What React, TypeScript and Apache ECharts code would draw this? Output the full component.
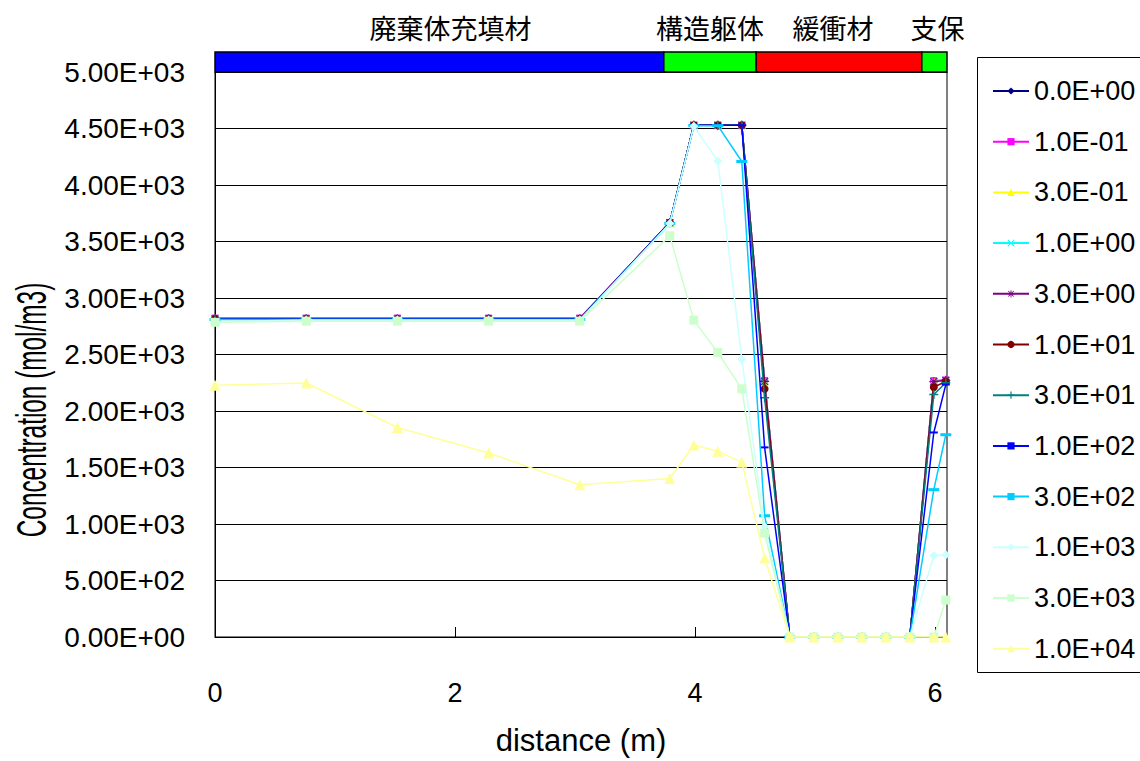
import React, { useEffect, useRef } from "react";
import * as echarts from "echarts";

// ---- data ----
const distance = [0, 0.76, 1.52, 2.28, 3.04, 3.79, 3.99, 4.19, 4.39, 4.58, 4.79, 4.99, 5.19, 5.39, 5.59, 5.79, 5.99, 6.09];

const seriesNames = [
  "0.0E+00", "1.0E-01", "3.0E-01", "1.0E+00", "3.0E+00", "1.0E+01",
  "3.0E+01", "1.0E+02", "3.0E+02", "1.0E+03", "3.0E+03", "1.0E+04",
];

const conc_0 = [2815, 2815, 2815, 2815, 2815, 3667, 4529, 4529, 4529, 2263, 0, 0, 0, 0, 0, 0, 2263, 2272];
const conc_0_1 = [2822, 2822, 2822, 2822, 2822, 3667, 4529, 4529, 4529, 2268, 0, 0, 0, 0, 0, 0, 2268, 2274];
const conc_0_3 = [2815, 2815, 2815, 2815, 2815, 3667, 4529, 4529, 4529, 2263, 0, 0, 0, 0, 0, 0, 2263, 2270];
const conc_1 = [2812, 2812, 2812, 2812, 2812, 3665, 4529, 4529, 4529, 2260, 0, 0, 0, 0, 0, 0, 2258, 2270];
const conc_3 = [2815, 2815, 2815, 2815, 2815, 3667, 4529, 4529, 4529, 2262, 0, 0, 0, 0, 0, 0, 2260, 2272];
const conc_10 = [2815, 2815, 2815, 2815, 2815, 3667, 4529, 4529, 4529, 2196, 0, 0, 0, 0, 0, 0, 2210, 2262];
const conc_30 = [2815, 2815, 2815, 2815, 2815, 3667, 4529, 4529, 4529, 2117, 0, 0, 0, 0, 0, 0, 2146, 2250];
const conc_100 = [2815, 2815, 2815, 2815, 2815, 3667, 4529, 4529, 4529, 1678, 0, 0, 0, 0, 0, 0, 1810, 2234];
const conc_300 = [2810, 2810, 2810, 2810, 2810, 3660, 4525, 4525, 4208, 1073, 0, 0, 0, 0, 0, 0, 1304, 1790];
const conc_1000 = [2790, 2805, 2805, 2805, 2805, 3660, 4520, 4213, 2459, 976, 0, 0, 0, 0, 0, 0, 722, 728];
const conc_3000 = [2785, 2795, 2795, 2795, 2795, 3550, 2804, 2518, 2196, 918, 0, 0, 0, 0, 0, 0, 0, 327];
const conc_10000 = [2228, 2248, 1854, 1629, 1348, 1403, 1699, 1643, 1547, 699, 0, 0, 0, 0, 0, 0, 0, 0];

const seriesValues = [
  conc_0, conc_0_1, conc_0_3, conc_1, conc_3, conc_10,
  conc_30, conc_100, conc_300, conc_1000, conc_3000, conc_10000,
];

const zoneStart = [0, 3.74, 4.51, 5.89];
const zoneEnd = [3.74, 4.51, 5.89, 6.1];
const zoneNames = ["廃棄体充填材", "構造躯体", "緩衝材", "支保"];

// ---- styles ----
const zoneColors = ["#0000FF", "#00FF00", "#FF0000", "#00FF00"];
const zoneLabelShift = [11, 0, -6, 3];
const colors = [
  "#000080", "#FF00FF", "#FFFF00", "#00FFFF", "#800080", "#800000",
  "#008080", "#0000FF", "#00CCFF", "#CCFFFF", "#CCFFCC", "#FFFF99",
];
const X_SYM = "path://M0,1L1,0L5,4L9,0L10,1L6,5L10,9L9,10L5,6L1,10L0,9L4,5Z";
const PLUS_SYM = "path://M4.2,0H5.8V4.2H10V5.8H5.8V10H4.2V5.8H0V4.2H4.2Z";
const STAR_SYM =
  "path://M4.4,0H5.6V4.4H10V5.6H5.6V10H4.4V5.6H0V4.4H4.4Z M0.8,1.6L1.6,0.8L5,4.2L8.4,0.8L9.2,1.6L5.8,5L9.2,8.4L8.4,9.2L5,5.8L1.6,9.2L0.8,8.4L4.2,5Z";
const symbols = [
  "diamond", "rect", "triangle", X_SYM, STAR_SYM, "circle",
  PLUS_SYM, "rect", "rect", "diamond", "rect", "triangle",
];
const symbolSizes: any[] = [8, 7, 9, 8, 9, 8, 9, [8, 2], [11, 3], 9, 9, 11];

const NUM_FONT = "'Liberation Sans', Arial, sans-serif";
const CJK_FONT = "'Noto Sans CJK JP', 'Noto Sans CJK SC', sans-serif";

function sciLabel(v: number): string {
  if (v === 0) return "0.00E+00";
  const e = Math.floor(Math.log10(v) + 1e-9);
  const m = v / Math.pow(10, e);
  const sign = e < 0 ? "-" : "+";
  const ae = Math.abs(e);
  return m.toFixed(2) + "E" + sign + (ae < 10 ? "0" + ae : String(ae));
}

function buildOption(): any {
  const lineSeries = seriesNames.map((name, i) => ({
    name,
    type: "line",
    data: distance.map((x, j) => [x, seriesValues[i][j]]),
    symbol: symbols[i],
    symbolSize: symbolSizes[i],
    showAllSymbol: true,
    lineStyle: { color: colors[i], width: 1.5 },
    itemStyle: { color: colors[i] },
    z: 2 + i * 0.01,
  }));

  const zoneSeries = {
    type: "custom",
    name: "zones",
    coordinateSystem: "cartesian2d",
    encode: { x: [0, 1] },
    data: zoneStart.map((s, i) => [s, zoneEnd[i]]),
    clip: false,
    silent: true,
    renderItem: (params: any, api: any) => {
      const i = params.dataIndex;
      const p0 = api.coord([api.value(0), 5000]);
      const p1 = api.coord([api.value(1), 5000]);
      return {
        type: "group",
        children: [
          {
            type: "rect",
            shape: { x: p0[0], y: p0[1] - 20, width: p1[0] - p0[0], height: 20 },
            style: { fill: zoneColors[i], stroke: "#000", lineWidth: 1.5 },
          },
          {
            type: "text",
            style: {
              text: zoneNames[i],
              x: (p0[0] + p1[0]) / 2 + zoneLabelShift[i],
              y: p0[1] - 45,
              align: "center",
              verticalAlign: "middle",
              fontSize: 27,
              fontFamily: CJK_FONT,
              fill: "#000",
            },
          },
        ],
      };
    },
  };

  return {
    animation: false,
    backgroundColor: "#ffffff",
    grid: {
      left: 215,
      top: 72,
      width: 732,
      height: 571,
      show: true,
      borderColor: "#000",
      borderWidth: 1,
      backgroundColor: "transparent",
    },
    xAxis: {
      type: "value",
      min: 0,
      max: 6.1,
      interval: 2,
      axisLine: { lineStyle: { color: "#000", width: 1 } },
      axisTick: { inside: true, length: 10, lineStyle: { color: "#000" } },
      axisLabel: {
        showMaxLabel: false,
        margin: 42,
        fontSize: 27,
        fontFamily: NUM_FONT,
        color: "#000",
        formatter: (v: number) => (Number.isInteger(v) ? String(v) : ""),
      },
      splitLine: { show: false },
      name: "distance (m)",
      nameLocation: "middle",
      nameGap: 88,
      nameTextStyle: { fontSize: 31, fontFamily: NUM_FONT, color: "#000" },
    },
    yAxis: {
      type: "value",
      min: 0,
      max: 5000,
      interval: 500,
      axisLine: { show: true, lineStyle: { color: "#000", width: 1 } },
      axisTick: { show: true, inside: true, length: 10, lineStyle: { color: "#000" } },
      axisLabel: {
        margin: 30,
        fontSize: 28,
        fontFamily: NUM_FONT,
        color: "#000",
        padding: [8, 0, 0, 0],
        formatter: (v: number) => sciLabel(v),
      },
      splitLine: { show: true, lineStyle: { color: "#000", width: 1 } },
    },
    legend: {
      orient: "vertical",
      left: 992,
      top: 76,
      itemWidth: 36,
      itemHeight: 9,
      itemGap: 20.7,
      padding: 0,
      textStyle: { fontSize: 27, fontFamily: NUM_FONT, color: "#000", lineHeight: 30 },
      data: seriesNames,
    },
    graphic: [
      {
        type: "rect",
        shape: { x: 977.5, y: 57.5, width: 180, height: 615 },
        style: { fill: "none", stroke: "#000", lineWidth: 1 },
        silent: true,
      },
      {
        type: "text",
        x: 31,
        y: 410,
        rotation: Math.PI / 2,
        scaleX: 0.58,
        style: {
          text: "Concentration (mol/m3)",
          fontSize: 42,
          fontFamily: NUM_FONT,
          fill: "#000",
          align: "center",
          verticalAlign: "middle",
        },
        silent: true,
      },
    ],
    series: [...lineSeries, zoneSeries],
  };
}

export default function App() {
  const ref = useRef<HTMLDivElement>(null);
  useEffect(() => {
    if (!ref.current) return;
    const chart = echarts.init(ref.current, undefined, { renderer: "svg" });
    chart.setOption(buildOption());
    return () => chart.dispose();
  }, []);
  return (
    <div
      ref={ref}
      style={{ position: "fixed", left: 0, top: 0, width: 1140, height: 761, background: "#fff" }}
    />
  );
}
